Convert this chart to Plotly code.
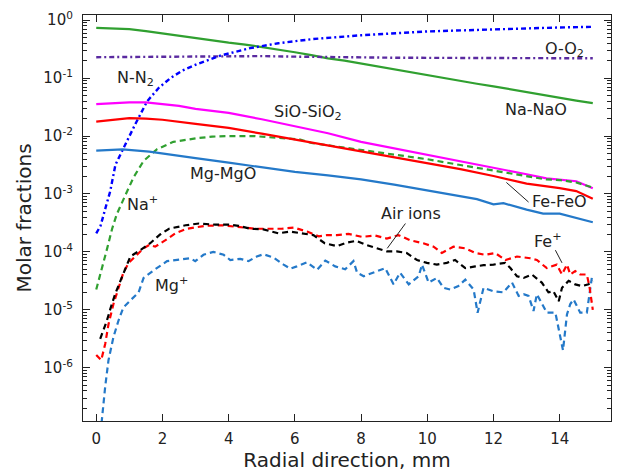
import plotly.graph_objects as go

# ---------------- data ----------------
x_nanao = [0, 0.5, 1, 1.5, 2, 2.5, 3, 3.5, 4, 4.5, 5, 5.5, 6, 6.5, 7, 7.5, 8, 8.5, 9, 9.5,
           10, 10.5, 11, 11.5, 12, 12.5, 13, 13.5, 14, 14.5, 15]
y_nanao = [0.74, 0.73, 0.70, 0.65, 0.59, 0.54, 0.49, 0.45, 0.41, 0.38, 0.345, 0.31, 0.28, 0.25,
           0.22, 0.20, 0.178, 0.158, 0.14, 0.125, 0.112, 0.10, 0.09, 0.08, 0.072, 0.064, 0.057,
           0.051, 0.045, 0.041, 0.037]

x_oo2 = [0, 1, 2, 3, 4, 5, 6, 7, 8, 9, 10, 11, 12, 13, 14, 15]
y_oo2 = [0.23, 0.232, 0.237, 0.24, 0.242, 0.24, 0.235, 0.23, 0.227, 0.225, 0.224, 0.222,
         0.221, 0.22, 0.22, 0.22]

x_nn2 = [0, 0.13, 0.3, 0.42, 0.58, 0.89, 1.19, 1.54, 1.89, 2.24, 2.6, 3.05, 3.75, 4.65, 5.5,
         6.5, 8, 10, 12, 14, 15]
y_nn2 = [2.09e-4, 2.82e-4, 6.31e-4, 1.1e-3, 3.2e-3, 7.6e-3, 0.0165, 0.040, 0.068, 0.10,
         0.135, 0.175, 0.245, 0.33, 0.40, 0.47, 0.55, 0.64, 0.70, 0.75, 0.77]

x_sio = [0, 0.5, 1, 1.5, 2, 2.5, 3, 3.5, 4, 5, 6, 7, 8, 9, 10, 11, 12, 13, 13.6, 14, 14.5, 15]
y_sio = [0.0355, 0.0372, 0.038, 0.038, 0.0355, 0.0331, 0.0295, 0.0275, 0.0251, 0.0195, 0.0148,
         0.0112, 7.94e-3, 6.17e-3, 4.79e-3, 3.72e-3, 2.88e-3, 2.19e-3, 1.86e-3, 1.78e-3,
         1.66e-3, 1.26e-3]

x_fefeo = [0, 0.5, 1, 1.5, 2, 3, 4, 5, 6, 7, 8, 9, 10, 11, 12, 13, 14, 14.5, 15]
y_fefeo = [0.0178, 0.0191, 0.0204, 0.020, 0.0191, 0.0162, 0.0138, 0.011, 8.71e-3, 6.92e-3,
           5.5e-3, 4.37e-3, 3.47e-3, 2.69e-3, 2.04e-3, 1.51e-3, 1.26e-3, 1.12e-3, 8.3e-4]

x_mgmgo = [0, 0.8, 1.6, 2.4, 3, 4, 5, 6, 7, 8, 9, 10, 11, 11.5, 12, 12.3, 13, 13.5, 14, 14.4, 15]
y_mgmgo = [5.62e-3, 5.89e-3, 5.37e-3, 4.57e-3, 4.17e-3, 3.47e-3, 2.88e-3, 2.40e-3, 2.09e-3,
           1.78e-3, 1.45e-3, 1.15e-3, 9.12e-4, 8.13e-4, 6.61e-4, 6.92e-4, 5.37e-4, 4.57e-4,
           4.57e-4, 3.98e-4, 3.24e-4]

x_naion = [0, 0.18, 0.33, 0.48, 0.62, 0.88, 1.13, 1.43, 1.83, 2.33, 3.0, 3.5, 4.0, 4.75, 5.56,
           6.16, 6.5, 7, 8, 9, 10, 11, 12, 13, 13.6, 14, 14.5, 15]
y_naion = [2.24e-5, 5.25e-5, 1.15e-4, 2.51e-4, 4.47e-4, 9.55e-4, 1.95e-3, 3.72e-3, 5.89e-3,
           7.94e-3, 9.12e-3, 9.77e-3, 0.01, 0.01, 9.33e-3, 8.71e-3, 7.59e-3, 6.92e-3, 5.75e-3,
           4.79e-3, 3.98e-3, 3.16e-3, 2.51e-3, 2.04e-3, 1.78e-3, 1.74e-3, 1.58e-3, 1.29e-3]

x_feion = [0.0, 0.15, 0.27, 0.37, 0.52, 0.67, 0.82, 0.98, 1.18, 1.43, 1.6, 1.78, 2.08, 2.39,
           2.74, 3.0, 3.3, 3.8, 4.2, 4.45, 4.8, 5.2, 5.6, 5.96, 6.37, 6.72, 6.97, 7.27, 7.62,
           8.02, 8.43, 8.78, 9.13, 9.49, 9.88, 10.19, 10.44, 10.79, 11.15, 11.45, 11.75, 12.05,
           12.36, 12.71, 13.11, 13.31, 13.61, 13.91, 14.07, 14.22, 14.32, 14.47, 14.62, 14.82,
           14.9, 15.0]
y_feion = [1.66e-6, 1.35e-6, 2.57e-6, 5.62e-6, 1.26e-5, 2.40e-5, 4.37e-5, 6.46e-5, 8.32e-5,
           1.15e-4, 1.32e-4, 1.23e-4, 1.58e-4, 2.09e-4, 2.51e-4, 2.63e-4, 2.82e-4, 2.88e-4,
           2.75e-4, 2.69e-4, 2.51e-4, 2.51e-4, 2.51e-4, 2.63e-4, 2.24e-4, 1.86e-4, 1.95e-4,
           1.95e-4, 2.04e-4, 1.82e-4, 1.91e-4, 1.70e-4, 1.95e-4, 1.58e-4, 1.41e-4, 1.23e-4,
           9.55e-5, 1.23e-4, 1.15e-4, 9.55e-5, 8.91e-5, 9.55e-5, 7.24e-5, 8.32e-5, 7.76e-5,
           7.24e-5, 5.25e-5, 6.03e-5, 4.07e-5, 6.03e-5, 4.07e-5, 4.68e-5, 4.07e-5, 4.07e-5,
           2.51e-5, 1.0e-5]

x_air = [0.12, 0.32, 0.44, 0.57, 0.73, 0.88, 1.03, 1.33, 1.63, 1.93, 2.2, 2.7, 3.1, 3.6, 4.0,
         4.3, 4.65, 5.05, 5.5, 5.86, 6.21, 6.56, 6.9, 7.27, 7.57, 7.85, 8.15, 8.48, 8.78, 9.08,
         9.38, 9.69, 9.99, 10.29, 10.59, 10.84, 11.15, 11.45, 11.70, 12.0, 12.35, 12.51, 12.71,
         12.91, 13.16, 13.46, 13.66, 13.81, 13.97, 14.07, 14.27, 14.47, 14.67, 14.87, 15.0]
y_air = [3.16e-6, 6.46e-6, 1.10e-5, 1.86e-5, 3.16e-5, 5.25e-5, 8.32e-5, 1.07e-4, 1.41e-4,
         2.0e-4, 2.51e-4, 2.88e-4, 3.09e-4, 2.95e-4, 2.95e-4, 2.82e-4, 2.51e-4, 2.45e-4,
         2.09e-4, 2.24e-4, 2.09e-4, 1.95e-4, 1.41e-4, 1.26e-4, 1.45e-4, 1.55e-4, 1.32e-4,
         1.17e-4, 1.02e-4, 1.02e-4, 9.55e-5, 7.24e-5, 6.46e-5, 6.03e-5, 6.46e-5, 7.24e-5,
         5.25e-5, 5.62e-5, 5.89e-5, 6.03e-5, 6.46e-5, 5.25e-5, 3.80e-5, 3.55e-5, 4.07e-5,
         2.95e-5, 2.0e-5, 2.09e-5, 1.41e-5, 2.40e-5, 3.16e-5, 2.75e-5, 2.57e-5, 2.75e-5, 3.16e-5]

x_mgion = [0.1, 0.17, 0.27, 0.37, 0.52, 0.67, 0.82, 1.03, 1.28, 1.43, 1.73, 2.14, 2.49, 2.84,
           2.99, 3.24, 3.54, 3.85, 4.05, 4.35, 4.60, 4.85, 5.05, 5.36, 5.66, 5.86, 6.06, 6.37,
           6.67, 6.92, 7.22, 7.52, 7.77, 7.88, 8.08, 8.38, 8.73, 8.98, 9.18, 9.44, 9.74, 9.84,
           10.04, 10.29, 10.49, 10.69, 10.94, 11.15, 11.40, 11.52, 11.70, 12.0, 12.30, 12.56,
           12.76, 12.91, 13.06, 13.21, 13.31, 13.61, 13.87, 14.10, 14.22, 14.32, 14.42, 14.62,
           14.82, 14.97]
y_mgion = [5.0e-8, 1.29e-7, 4.68e-7, 1.35e-6, 3.39e-6, 6.46e-6, 1.10e-5, 1.45e-5, 2.0e-5,
           3.55e-5, 4.79e-5, 6.92e-5, 7.24e-5, 7.76e-5, 6.92e-5, 8.91e-5, 1.0e-4, 8.91e-5,
           7.24e-5, 7.59e-5, 6.92e-5, 8.32e-5, 9.12e-5, 7.94e-5, 6.03e-5, 5.13e-5, 5.62e-5,
           6.61e-5, 4.90e-5, 7.08e-5, 5.62e-5, 5.01e-5, 6.92e-5, 4.37e-5, 3.80e-5, 4.37e-5,
           5.25e-5, 2.75e-5, 4.37e-5, 2.75e-5, 3.80e-5, 6.03e-5, 2.95e-5, 3.55e-5, 2.40e-5,
           2.24e-5, 2.57e-5, 3.31e-5, 2.24e-5, 8.91e-6, 2.40e-5, 2.09e-5, 2.0e-5, 2.95e-5,
           1.74e-5, 1.86e-5, 1.74e-5, 9.55e-6, 1.86e-5, 8.91e-6, 8.91e-6, 2.0e-6, 8.32e-6,
           1.26e-5, 1.51e-5, 8.91e-6, 8.91e-6, 3.55e-5]

x_ticks = [0, 2, 4, 6, 8, 10, 12, 14]
y_ticks = [1e-6, 1e-5, 1e-4, 1e-3, 1e-2, 1e-1, 1]
y_ticktext = ["10<sup>-6</sup>", "10<sup>-5</sup>", "10<sup>-4</sup>", "10<sup>-3</sup>",
              "10<sup>-2</sup>", "10<sup>-1</sup>", "10<sup>0</sup>"]

# ---------------- styles ----------------
GREEN = "#30a030"
PURPLE = "#5a2aa0"
BLUE = "#0000ff"
MAGENTA = "#ff00ff"
RED = "#ff0000"
STEEL = "#2479c9"
BLACK = "#000000"
DASH = "6px,4px"
DASHDOT = "5px,3px,2px,3px"
FONT = "DejaVu Sans"
INK = "#222222"

fig = go.Figure()

def add(x, y, color, dash="solid", width=2.2):
    fig.add_trace(go.Scatter(x=x, y=y, mode="lines", hoverinfo="skip",
                             line=dict(color=color, dash=dash, width=width)))

add(x_nanao, y_nanao, GREEN)
add(x_oo2, y_oo2, PURPLE, DASHDOT, 2.4)
add(x_nn2, y_nn2, BLUE, DASHDOT, 2.4)
add(x_sio, y_sio, MAGENTA)
add(x_naion, y_naion, GREEN, DASH)
add(x_fefeo, y_fefeo, RED)
add(x_mgmgo, y_mgmgo, STEEL)
add(x_mgion, y_mgion, STEEL, DASH)
add(x_feion, y_feion, RED, DASH)
add(x_air, y_air, BLACK, DASH)

# ---------------- labels (annotation y positions are log10 values) ----------------
labels = [
    ("N-N<sub>2</sub>", 0.57, -1.00),
    ("O-O<sub>2</sub>", 13.5, -0.50),
    ("SiO-SiO<sub>2</sub>", 5.32, -1.59),
    ("Na-NaO", 12.3, -1.55),
    ("Mg-MgO", 2.78, -2.64),
    ("Na<sup>+</sup>", 0.88, -3.17),
    ("Mg<sup>+</sup>", 1.72, -4.57),
    ("Air ions", 8.55, -3.33),
    ("Fe<sup>+</sup>", 13.15, -3.80),
    ("Fe-FeO", 13.1, -3.13),
]
for txt, lx, ly in labels:
    fig.add_annotation(x=lx, y=ly, text=txt, showarrow=False, xanchor="left",
                       yanchor="middle", font=dict(family=FONT, size=16, color=INK))

# leader lines (shape coordinates in data units)
leaders = [
    (12.39, 1.58e-3, 13.06, 7.24e-4),
    (9.34, 3.09e-4, 8.79, 1.15e-4),
    (13.87, 1.07e-4, 14.07, 6.46e-5),
]
for x0, y0, x1, y1 in leaders:
    fig.add_shape(type="line", xref="x", yref="y", x0=x0, y0=y0, x1=x1, y1=y1,
                  line=dict(color=INK, width=1))

axis_common = dict(showline=True, linecolor=INK, linewidth=1.2, mirror="allticks",
                   ticks="inside", ticklen=7, tickcolor=INK, showgrid=False,
                   zeroline=False, tickfont=dict(family=FONT, size=15, color=INK))

minor_vals = [k * 10.0 ** n for n in range(-7, 1) for k in range(2, 10)]

fig.update_xaxes(range=[-0.4, 15.55], tickvals=x_ticks, ticklabelstandoff=4,
                 title=dict(text="Radial direction, mm", standoff=1,
                            font=dict(family=FONT, size=20, color=INK)),
                 **axis_common)
fig.update_yaxes(type="log", range=[-6.92, 0.09], tickvals=y_ticks, ticktext=y_ticktext,
                 ticklabelstandoff=6,
                 minor=dict(ticks="inside", ticklen=4, tickcolor=INK, tickvals=minor_vals),
                 title=dict(text="Molar fractions", standoff=6,
                            font=dict(family=FONT, size=20, color=INK)),
                 **axis_common)

fig.update_layout(width=632, height=475, showlegend=False,
                  margin=dict(l=83, r=21, t=9, b=54),
                  paper_bgcolor="white", plot_bgcolor="white",
                  font=dict(family=FONT, color=INK))

fig.write_html("out.html")
